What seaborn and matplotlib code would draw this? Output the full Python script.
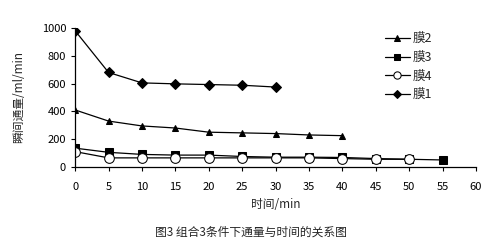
import matplotlib
matplotlib.use("Agg")
import matplotlib.pyplot as plt
import seaborn as sns
import pandas as pd

# data
t1 = [0, 5, 10, 15, 20, 25, 30]
m1 = [980, 680, 605, 598, 593, 588, 575]
t2 = [0, 5, 10, 15, 20, 25, 30, 35, 40]
m2 = [410, 330, 295, 280, 250, 245, 240, 230, 225]
t3 = [0, 5, 10, 15, 20, 25, 30, 35, 40, 45, 50, 55]
m3 = [135, 105, 90, 85, 85, 75, 70, 70, 68, 60, 55, 50]
t4 = [0, 5, 10, 15, 20, 25, 30, 35, 40, 45, 50]
m4 = [110, 65, 65, 65, 65, 65, 65, 65, 60, 55, 55]
names = ["膜2", "膜3", "膜4", "膜1"]

sns.set_style("white")
plt.rcParams['font.family'] = ['Noto Sans CJK SC', 'DejaVu Sans']

df = pd.concat([
    pd.DataFrame({"t": t2, "v": m2, "m": "膜2"}),
    pd.DataFrame({"t": t3, "v": m3, "m": "膜3"}),
    pd.DataFrame({"t": t4, "v": m4, "m": "膜4"}),
    pd.DataFrame({"t": t1, "v": m1, "m": "膜1"}),
])

fig = plt.figure(figsize=(5.01, 2.48), dpi=100)
ax = fig.add_axes([0.15, 0.327, 0.80, 0.56])

styles = {"膜2": dict(marker="^", mfc="black", ms=5),
          "膜3": dict(marker="s", mfc="black", ms=6),
          "膜4": dict(marker="o", mfc="white", ms=7),
          "膜1": dict(marker="D", mfc="black", ms=5)}
for n in names:
    sub = df[df.m == n]
    sns.lineplot(data=sub, x="t", y="v", ax=ax, color="black", lw=0.9,
                 mec="black", label=n, **styles[n])

ax.set_xlim(0, 60)
ax.set_ylim(0, 1000)
ax.set_xticks(range(0, 61, 5))
ax.set_yticks(range(0, 1001, 200))
ax.spines['top'].set_visible(False)
ax.spines['right'].set_visible(False)
for s in ['left', 'bottom']:
    ax.spines[s].set_linewidth(0.9)
    ax.spines[s].set_color("black")
ax.tick_params(axis='both', direction='out', length=3, width=0.8, labelsize=8,
               colors="black", bottom=True, left=True)
ax.tick_params(axis='x', pad=8)
ax.set_xlabel("时间/min", fontsize=8.5, labelpad=4)
ax.set_ylabel("瞬间通量/ml/min", fontsize=8.5, labelpad=12)
ax.grid(False)

leg = ax.legend(loc="upper left", bbox_to_anchor=(0.745, 1.05), frameon=False,
                fontsize=9, handlelength=2.0, handletextpad=0.2, labelspacing=0.45,
                markerscale=0.75)

fig.text(0.5, 0.065, "图3 组合3条件下通量与时间的关系图", ha="center", va="center", fontsize=8.5)

fig.savefig("out.png", dpi=100)
